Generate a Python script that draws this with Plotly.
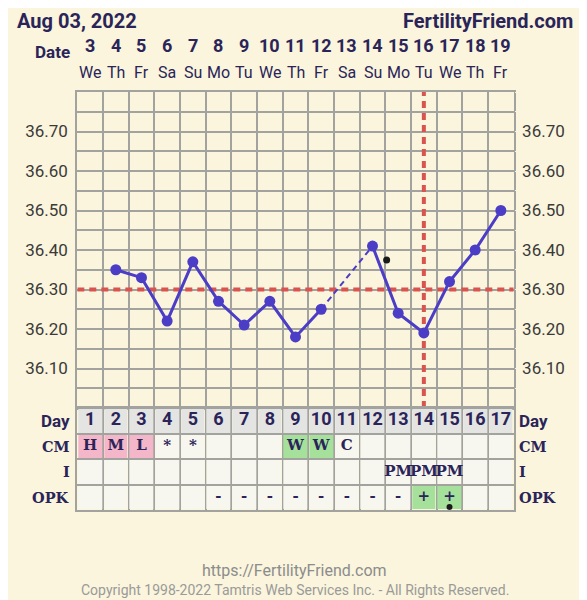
import plotly.graph_objects as go

# ---------------------------------------------------------------------------
# Chart data
# ---------------------------------------------------------------------------
cycle_days = [1, 2, 3, 4, 5, 6, 7, 8, 9, 10, 11, 12, 13, 14, 15, 16, 17]
dates = [3, 4, 5, 6, 7, 8, 9, 10, 11, 12, 13, 14, 15, 16, 17, 18, 19]
weekdays = ["We", "Th", "Fr", "Sa", "Su", "Mo", "Tu", "We", "Th", "Fr",
            "Sa", "Su", "Mo", "Tu", "We", "Th", "Fr"]
temps = [None, 36.35, 36.33, 36.22, 36.37, 36.27, 36.21, 36.27, 36.18,
         36.25, None, 36.41, 36.24, 36.19, 36.32, 36.40, 36.50]
temp_labels = ["36.10", "36.20", "36.30", "36.40", "36.50", "36.60", "36.70"]
coverline = 36.30
ovulation_day = 14
note_day = [12.55]
note_temp = [36.375]

cm_marks = ["H", "M", "L", "*", "*", "", "", "", "W", "W", "C", "", "", "", "", "", ""]
i_marks = ["", "", "", "", "", "", "", "", "", "", "", "", "PM", "PM", "PM", "", ""]
opk_marks = ["", "", "", "", "", "-", "-", "-", "-", "-", "-", "-", "-", "+", "+", "", ""]
opk_dot_day = [15]
row_labels = ["Day", "CM", "I", "OPK"]

# ---------------------------------------------------------------------------
# Style / page geometry (the page body has an 8px margin)
# ---------------------------------------------------------------------------
BG = "#FAF5DC"
GRID = "#A2A29E"
NAVY = "#2A2459"
RED = "#D9534F"
BLUE = "#4B3DC6"
SLAB = "DejaVu Serif"

OFF = 8
W, H = 587 - OFF, 600 - OFF


def px(x):
    return (x - OFF) / W


def py(y):
    return 1 - (y - OFF) / H


X_DOM = [px(77.3), px(513.7)]
Y_DOM = [py(408), py(92)]
T_DOM = [py(510), py(408)]
T_LO, T_HI = 36.0, 36.8
X_RANGE = [cycle_days[0] - 0.5, cycle_days[-1] + 0.5]

fig = go.Figure()

# table backgrounds (0 blank, 1 day row, 2 pink, 3 green)
fill_code = {"H": 2, "M": 2, "L": 2, "W": 3, "+": 3}
z = [
    [1] * len(cycle_days),
    [fill_code.get(m, 0) for m in cm_marks],
    [fill_code.get(m, 0) for m in i_marks],
    [fill_code.get(m, 0) for m in opk_marks],
]
fig.add_trace(go.Heatmap(
    x=cycle_days, y=[0.5, 1.5, 2.5, 3.5], z=z,
    xaxis="x2", yaxis="y2", xgap=2, ygap=2,
    zmin=0, zmax=3, showscale=False, hoverinfo="skip",
    colorscale=[[0, "#F8F7EF"], [1 / 3, "#E4E4E2"], [2 / 3, "#F4B6C9"], [1, "#A6E19B"]],
))

# table texts
fig.add_trace(go.Scatter(
    x=cycle_days, y=[0.5] * 17, text=[str(d) for d in cycle_days], mode="text",
    xaxis="x2", yaxis="y2", textfont=dict(family="Roboto", size=18, color=NAVY, weight="bold"),
))
for row, marks in [(1.5, cm_marks), (2.5, i_marks), (3.5, opk_marks)]:
    fig.add_trace(go.Scatter(
        x=cycle_days, y=[row] * 17, text=marks, mode="text",
        xaxis="x2", yaxis="y2", textfont=dict(family=SLAB, size=15, color=NAVY, weight="bold"),
    ))
fig.add_trace(go.Scatter(
    x=opk_dot_day, y=[3.88], mode="markers", xaxis="x2", yaxis="y2",
    marker=dict(size=6, color="#1A1A1A"),
))

# coverline and ovulation line
fig.add_trace(go.Scatter(
    x=X_RANGE, y=[coverline, coverline], mode="lines",
    line=dict(color=RED, width=4, dash="7px,5px"),
))
fig.add_trace(go.Scatter(
    x=[ovulation_day, ovulation_day], y=[T_LO, T_HI], mode="lines",
    line=dict(color=RED, width=4, dash="7px,5px"),
))

# dashed bridge over missing temperatures
for i, t in enumerate(temps):
    if t is None and 0 < i < len(temps) - 1 and temps[i - 1] and temps[i + 1]:
        fig.add_trace(go.Scatter(
            x=[cycle_days[i - 1], cycle_days[i + 1]], y=[temps[i - 1], temps[i + 1]],
            mode="lines", line=dict(color=BLUE, width=2, dash="6px,4px"),
        ))

fig.add_trace(go.Scatter(
    x=cycle_days, y=temps, mode="lines+markers", connectgaps=False,
    line=dict(color=BLUE, width=3), marker=dict(size=11, color=BLUE),
))
fig.add_trace(go.Scatter(
    x=note_day, y=note_temp, mode="markers", marker=dict(size=7, color="#1A1A1A"),
))
# invisible trace for the right-hand temperature axis
fig.add_trace(go.Scatter(x=[1], y=[T_LO], yaxis="y3", mode="markers",
                         marker=dict(opacity=0), hoverinfo="skip"))

grid_vals = [round(T_LO + 0.05 * k, 2) for k in range(17)]
grid_text = [f"{v:.2f}" if f"{v:.2f}" in temp_labels else "" for v in grid_vals]

yfont = dict(family="Roboto", size=17, color="#3A3A3A")
common_x = dict(domain=X_DOM, range=X_RANGE, tickmode="linear", tick0=0.5, dtick=1,
                showgrid=True, gridcolor=GRID, gridwidth=2, showticklabels=False,
                showline=True, mirror=True, linecolor=GRID, linewidth=2,
                zeroline=False, ticks="", fixedrange=True)

fig.update_layout(
    width=W, height=H, margin=dict(l=0, r=0, t=0, b=0),
    paper_bgcolor=BG, plot_bgcolor=BG, showlegend=False,
    xaxis=dict(anchor="y", **common_x),
    yaxis=dict(domain=Y_DOM, range=[T_LO, T_HI], tickvals=grid_vals, ticktext=grid_text,
               showgrid=True, gridcolor=GRID, gridwidth=2, showline=True, mirror=True,
               linecolor=GRID, linewidth=2, zeroline=False, ticks="outside", ticklen=4,
               tickcolor=BG, tickfont=yfont, fixedrange=True),
    yaxis3=dict(overlaying="y", side="right", anchor="x", range=[T_LO, T_HI],
                tickvals=grid_vals, ticktext=grid_text, showgrid=False, zeroline=False,
                ticks="outside", ticklen=4, tickcolor=BG, tickfont=yfont, fixedrange=True),
    xaxis2=dict(anchor="y2", **common_x),
    yaxis2=dict(domain=T_DOM, anchor="x2", range=[4, 0], tickmode="linear", tick0=0, dtick=1,
                showgrid=True, gridcolor=GRID, gridwidth=2, showticklabels=False,
                showline=True, mirror=True, linecolor=GRID, linewidth=2, zeroline=False,
                fixedrange=True),
)

ann = []
ann.append(dict(text="<b>Aug 03, 2022</b>", x=px(16), y=1, xanchor="left", yanchor="top",
                borderpad=0, font=dict(family="Roboto", size=20, color=NAVY)))
ann.append(dict(text="<b>FertilityFriend.com</b>", x=px(574), y=1, xanchor="right",
                yanchor="top", borderpad=0, font=dict(family="Roboto", size=20, color=NAVY)))
ann.append(dict(text="<b>Date</b>", x=px(72), y=py(52), xanchor="right",
                font=dict(family="Roboto", size=17, color=NAVY)))
for d, dt, wd in zip(cycle_days, dates, weekdays):
    ann.append(dict(text=f"<b>{dt}</b>", x=d, xref="x", y=py(45),
                    font=dict(family="Roboto", size=18, color=NAVY)))
    ann.append(dict(text=wd, x=d, xref="x", y=py(72),
                    font=dict(family="Roboto", size=16, color=NAVY)))
for k, lab in enumerate(row_labels):
    fam = "Roboto" if lab == "Day" else SLAB
    size = 17 if lab == "Day" else 14.5
    ann.append(dict(text=f"<b>{lab}</b>", x=px(72), xanchor="right", y=k + 0.5, yref="y2",
                    font=dict(family=fam, size=size, color=NAVY)))
    ann.append(dict(text=f"<b>{lab}</b>", x=px(517), xanchor="left", y=k + 0.5, yref="y2",
                    font=dict(family=fam, size=size, color=NAVY)))
ann.append(dict(text="https://FertilityFriend.com", x=px(294), y=py(570),
                font=dict(family="Roboto", size=16, color="#8C8C8C")))
ann.append(dict(text="Copyright 1998-2022 Tamtris Web Services Inc. - All Rights Reserved.",
                x=px(295), y=py(590), font=dict(family="Roboto", size=14, color="#9A9A9A")))
for a in ann:
    a.setdefault("xref", "paper")
    a.setdefault("yref", "paper")
    a.setdefault("xanchor", "center")
    a.setdefault("yanchor", "middle")
    a["showarrow"] = False
fig.update_layout(annotations=ann)

fig.write_html("out.html")
